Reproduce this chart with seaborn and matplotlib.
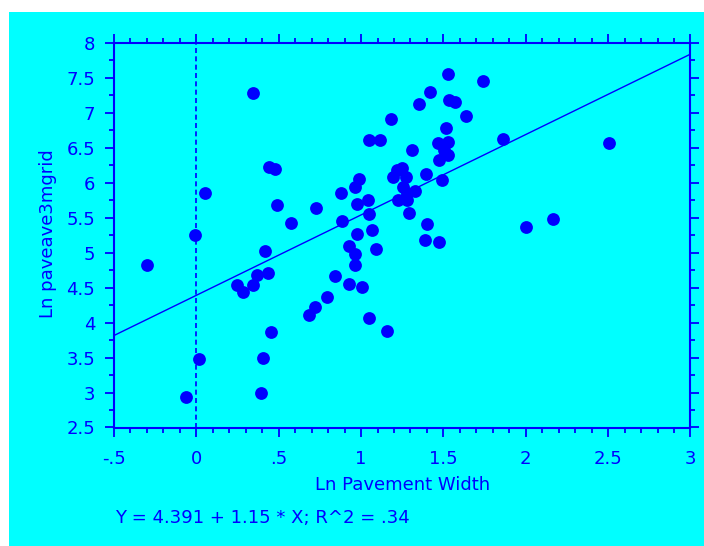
import numpy as np
import pandas as pd
import matplotlib
matplotlib.use("Agg")
import matplotlib.pyplot as plt
from matplotlib.patches import Rectangle
from matplotlib.ticker import MultipleLocator, FixedLocator, FixedFormatter
import seaborn as sns

# Log pavement width vs. log pavement-average (3 m grid) for each site
ln_width = [
    -0.298, -0.063, -0.006, 0.018, 0.055, 0.346, 0.245, 0.285, 0.346, 0.367,
    0.393, 0.407, 0.437, 0.417, 0.443, 0.480, 0.454, 0.492, 0.575, 0.725,
    0.686, 0.721, 0.795, 0.844, 0.883, 0.880, 0.929, 0.925, 0.964, 0.964,
    0.990, 0.964, 0.978, 0.978, 1.004, 1.040, 1.050, 1.065, 1.050, 1.049,
    1.091, 1.116, 1.160, 1.184, 1.217, 1.247, 1.196, 1.273, 1.257, 1.281,
    1.328, 1.226, 1.277, 1.293, 1.308, 1.354, 1.393, 1.403, 1.389, 1.419,
    1.466, 1.526, 1.506, 1.530, 1.475, 1.490, 1.475, 1.514, 1.526, 1.533,
    1.569, 1.636, 1.739, 1.864, 2.000, 2.168, 2.508,
]
ln_paveave = [
    4.83, 2.94, 5.26, 3.48, 5.85, 7.29, 4.54, 4.44, 4.54, 4.68,
    2.99, 3.49, 4.71, 5.03, 6.23, 6.20, 3.86, 5.68, 5.43, 5.64,
    4.11, 4.23, 4.37, 4.66, 5.46, 5.86, 5.10, 4.55, 4.98, 4.82,
    6.06, 5.94, 5.69, 5.27, 4.51, 5.76, 5.55, 5.32, 4.06, 6.61,
    5.06, 6.61, 3.88, 6.92, 6.18, 6.21, 6.09, 6.09, 5.94, 5.85,
    5.88, 5.75, 5.75, 5.57, 6.47, 7.13, 6.12, 5.41, 5.18, 7.30,
    6.57, 6.59, 6.47, 6.40, 6.33, 6.04, 5.15, 6.78, 7.56, 7.18,
    7.15, 6.95, 7.46, 6.63, 5.37, 5.48, 6.57,
]

# Fitted regression line
intercept = 4.391
slope = 1.15
r_squared = ".34"

x_ticks = [-0.5, 0, 0.5, 1, 1.5, 2, 2.5, 3]
x_tick_labels = ["-.5", "0", ".5", "1", "1.5", "2", "2.5", "3"]
y_ticks = [2.5, 3, 3.5, 4, 4.5, 5, 5.5, 6, 6.5, 7, 7.5, 8]
y_tick_labels = ["2.5", "3", "3.5", "4", "4.5", "5", "5.5", "6", "6.5", "7", "7.5", "8"]

BLUE = "#0000FF"
CYAN = "#00FFFF"

sns.set_style("ticks")
plt.rcParams["font.family"] = ["DejaVu Sans"]

W, H = 704, 546
fig = plt.figure(figsize=(W / 100, H / 100), dpi=100, facecolor="white")
fig.add_artist(Rectangle((9 / W, 0), 1, 1 - 12 / H, transform=fig.transFigure,
                         facecolor=CYAN, edgecolor="none", zorder=-10))

left, right, top, bottom = 114, 690.5, 43, 427.5
ax = fig.add_axes([left / W, 1 - bottom / H, (right - left) / W, (bottom - top) / H])
ax.set_facecolor(CYAN)

df = pd.DataFrame({"ln_width": ln_width, "ln_paveave": ln_paveave})
sns.scatterplot(data=df, x="ln_width", y="ln_paveave", color=BLUE, s=85,
                linewidth=0, ax=ax, zorder=3)

line_x = np.array([x_ticks[0], x_ticks[-1]])
line_y = intercept + slope * line_x
sns.lineplot(x=line_x, y=line_y, color=BLUE, linewidth=1.0, ax=ax, zorder=2)

ax.axvline(0, color=BLUE, linewidth=1.2, linestyle=(0, (3, 2)), zorder=1)

ax.set_xlim(x_ticks[0], x_ticks[-1])
ax.set_ylim(y_ticks[0], y_ticks[-1])
ax.xaxis.set_major_locator(FixedLocator(x_ticks))
ax.xaxis.set_major_formatter(FixedFormatter(x_tick_labels))
ax.yaxis.set_major_locator(FixedLocator(y_ticks))
ax.yaxis.set_major_formatter(FixedFormatter(y_tick_labels))
ax.xaxis.set_minor_locator(MultipleLocator(0.1))
ax.yaxis.set_minor_locator(MultipleLocator(0.25))

for sp in ax.spines.values():
    sp.set_visible(True)
    sp.set_color(BLUE)
    sp.set_linewidth(1.5)

ax.tick_params(which="both", direction="out", color=BLUE, width=1.3,
               top=True, right=True, labeltop=False, labelright=False,
               labelcolor=BLUE, labelsize=13)
ax.tick_params(which="major", length=6.5)
ax.tick_params(which="minor", length=3.5)
ax.tick_params(axis="x", which="major", pad=10)
ax.tick_params(axis="y", which="major", pad=7)

ax.set_xlabel("Ln Pavement Width", color=BLUE, fontsize=13, va="center")
ax.xaxis.set_label_coords(0.5, (bottom - 485) / (bottom - top))
ax.set_ylabel("Ln paveave3mgrid", color=BLUE, fontsize=13, va="center")
ax.yaxis.set_label_coords((47.5 - left) / (right - left), (bottom - 234) / (bottom - top))

fig.text(115 / W, 1 - 518 / H,
         f"Y = {intercept} + {slope} * X; R^2 = {r_squared}",
         color=BLUE, fontsize=13, ha="left", va="center")

fig.savefig("out.png", dpi=100, facecolor="white")
